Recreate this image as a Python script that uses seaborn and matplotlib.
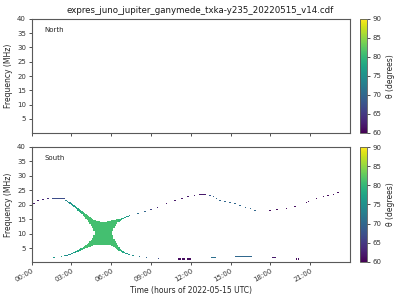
import numpy as np
import matplotlib
matplotlib.use("Agg")
import matplotlib.pyplot as plt
import seaborn as sns
from matplotlib.colors import Normalize
from matplotlib.cm import ScalarMappable

# ---------------- data ----------------
title = "expres_juno_jupiter_ganymede_txka-y235_20220515_v14.cdf"
hemispheres = ["North", "South"]
xtick_hours = [0, 3, 6, 9, 12, 15, 18, 21]
xtick_labels = ["00:00", "03:00", "06:00", "09:00", "12:00", "15:00", "18:00", "21:00"]
ytick_values = [5, 10, 15, 20, 25, 30, 35, 40]
cbar_ticks = [60, 65, 70, 75, 80, 85, 90]

# dense "X" shaped emission (South): column centres (hours), band edges (MHz)
x_t = [2.6, 2.7, 2.8, 2.9, 3.0, 3.1, 3.2, 3.3, 3.4, 3.5, 3.6, 3.7, 3.8, 3.9,
       4.0, 4.1, 4.2, 4.3, 4.4, 4.5, 4.6, 4.7,
       4.8, 4.9, 5.0, 5.1, 5.2, 5.3, 5.4, 5.5, 5.6, 5.7, 5.8, 5.9, 6.0,
       6.1, 6.2, 6.3, 6.4, 6.5, 6.6, 6.7, 6.8, 6.9, 7.0, 7.1, 7.2, 7.3, 7.4]
x_uhi = [21.6, 21.3, 21.0, 20.8, 20.5, 20.2, 19.9, 19.55, 19.2, 18.8, 18.4, 18.05, 17.7, 17.35,
         17.0, 16.7, 16.4, 16.1, 15.8, 15.5, 15.2, 14.9,
         14.6, 14.45, 14.3, 14.25, 14.2, 14.2, 14.2, 14.2, 14.2, 14.3, 14.4, 14.5, 14.6,
         14.7, 14.8, 14.9, 15.0, 15.05, 15.1, 15.25, 15.4, 15.55, 15.7, 15.85, 16.0, 16.15, 16.3]
x_ulo = [21.3, 21.0, 20.6, 20.3, 20.0, 19.7, 19.3, 18.9, 18.5, 18.0, 17.5, 17.1, 16.7, 16.2,
         15.7, 15.2, 14.7, 14.1, 13.5, 12.8, 11.9, 10.8,
         10.3, 10.3, 10.3, 10.3, 10.3, 10.3, 10.3, 10.3, 10.3, 10.3, 10.3, 10.3, 10.3,
         10.9, 12.0, 12.8, 13.4, 13.9, 14.2, 14.5, 14.8, 15.05, 15.3, 15.5, 15.7, 15.85, 16.0]
x_lhi = [2.7, 2.8, 2.9, 3.1, 3.3, 3.5, 3.7, 3.95, 4.2, 4.45, 4.7, 4.95, 5.2, 5.5,
         5.8, 6.1, 6.4, 6.9, 7.4, 8.0, 8.7, 9.6,
         10.3, 10.3, 10.3, 10.3, 10.3, 10.3, 10.3, 10.3, 10.3, 10.3, 10.3, 10.3, 10.3,
         9.6, 8.3, 7.4, 6.8, 6.0, 5.4, 4.85, 4.4, 4.0, 3.7, 3.5, 3.3, 3.15, 3.0]
x_llo = [2.4, 2.5, 2.6, 2.75, 2.9, 3.05, 3.2, 3.4, 3.6, 3.8, 4.0, 4.2, 4.4, 4.6,
         4.8, 5.0, 5.2, 5.4, 5.6, 5.75, 5.9, 6.0,
         6.1, 6.15, 6.2, 6.2, 6.2, 6.2, 6.2, 6.2, 6.2, 6.15, 6.1, 6.0, 5.9,
         5.7, 5.5, 5.2, 4.9, 4.55, 4.2, 3.9, 3.6, 3.4, 3.2, 3.05, 2.9, 2.8, 2.7]
x_theta = [74, 74, 75, 75, 76, 76, 77, 77, 78, 78, 79, 79, 80, 80,
           81, 81, 81, 81, 81, 81, 81, 81,
           81, 81, 81, 81, 81, 81, 81, 81, 81, 81, 81, 81, 81,
           81, 81, 81, 81, 81, 80, 80, 79, 78, 77, 77, 76, 76, 75]

# sparse emission dashes (South): start hour, end hour, frequency, theta
seg_start = [0.10, 0.42, 0.80, 1.17, 1.55,
             7.95, 8.45, 8.95, 9.45, 10.10, 10.75, 11.25, 11.75, 12.25, 12.65,
             13.40, 13.65, 13.90, 14.15, 14.50, 14.85, 15.25, 15.60, 16.05, 16.45, 16.80,
             17.90, 18.45, 19.15, 19.80, 20.70, 20.85, 21.45, 21.95, 22.30, 22.70, 23.05,
             1.60, 2.20, 2.45, 7.60, 8.10, 8.60, 9.50,
             11.00, 11.35, 11.75, 13.55, 15.30, 18.10, 19.95, 20.10]
seg_end = [0.22, 0.54, 0.92, 1.29, 2.50,
           8.10, 8.60, 9.05, 9.55, 10.20, 10.85, 11.40, 11.90, 12.35, 13.15,
           13.55, 13.75, 14.00, 14.25, 14.65, 15.05, 15.40, 15.75, 16.15, 16.55, 16.90,
           18.05, 18.60, 19.25, 19.90, 20.76, 20.92, 21.55, 22.05, 22.45, 22.80, 23.15,
           1.80, 2.30, 2.55, 7.70, 8.20, 8.70, 9.60,
           11.25, 11.60, 12.05, 13.90, 16.60, 18.40, 20.00, 20.15]
seg_freq = [20.5, 21.3, 21.8, 22.0, 22.2,
            17.1, 17.6, 18.2, 19.0, 20.5, 21.4, 22.2, 22.8, 23.2, 23.6,
            23.3, 22.7, 22.2, 21.6, 21.1, 20.7, 20.4, 19.8, 19.1, 18.6, 18.1,
            18.1, 18.4, 18.7, 19.5, 20.9, 21.2, 22.2, 22.9, 23.2, 23.6, 24.2,
            1.9, 2.2, 2.35, 2.5, 2.1, 1.9, 1.55,
            1.3, 1.3, 1.3, 1.7, 2.0, 1.7, 1.3, 1.3]
seg_theta = [62, 62, 63, 64, 67,
             71, 70, 66, 63, 62, 62, 62, 62, 62, 62,
             68, 69, 70, 70, 70, 70, 70, 70, 70, 70, 70,
             61, 61, 61, 61, 61, 61, 61, 61, 61, 61, 61,
             76, 77, 78, 75, 72, 70, 67,
             61, 61, 61, 71, 70, 62, 61, 61]

# ---------------- style ----------------
sns.set_theme(style="ticks", rc={
    "axes.edgecolor": "0.35",
    "xtick.color": "0.2",
    "ytick.color": "0.2",
    "axes.linewidth": 0.8,
    "xtick.major.size": 2.5,
    "ytick.major.size": 2.5,
    "xtick.major.width": 0.6,
    "ytick.major.width": 0.6,
})
plt.rcParams["font.family"] = ["DejaVu Sans"]

cmap = sns.color_palette("viridis", as_cmap=True)
norm = Normalize(vmin=60, vmax=90)

fig = plt.figure(figsize=(4, 3), dpi=100)
ax_n = fig.add_axes([0.079, 0.558, 0.796, 0.379])
ax_s = fig.add_axes([0.079, 0.126, 0.796, 0.385])
cax_n = fig.add_axes([0.9, 0.557, 0.017, 0.38])
cax_s = fig.add_axes([0.9, 0.127, 0.017, 0.383])

fig.text(0.5, 0.965, title, ha="center", va="center", fontsize=6.2, color="0.1")

dash_h = 0.35
# dense X region
xt = np.array(x_t)
w = 0.1
cols = [cmap(norm(v)) for v in x_theta]
ax_s.bar(xt - w / 2, np.array(x_uhi) - np.array(x_ulo), width=w, bottom=x_ulo,
         align="edge", color=cols, linewidth=0, antialiased=False)
ax_s.bar(xt - w / 2, np.array(x_lhi) - np.array(x_llo), width=w, bottom=x_llo,
         align="edge", color=cols, linewidth=0, antialiased=False)
# sparse dashes
ss = np.array(seg_start)
se = np.array(seg_end)
sf = np.array(seg_freq)
ax_s.bar(ss, np.full(len(sf), dash_h), width=se - ss, bottom=sf - dash_h / 2,
         align="edge", color=[cmap(norm(v)) for v in seg_theta], linewidth=0,
         antialiased=False)

for ax, name, cax in [(ax_n, hemispheres[0], cax_n), (ax_s, hemispheres[1], cax_s)]:
    ax.set_xlim(0, 24)
    ax.set_ylim(0.2, 40)
    ax.set_yticks(ytick_values)
    ax.set_xticks(xtick_hours)
    ax.tick_params(labelsize=5, pad=1.5)
    ax.set_ylabel("Frequency (MHz)", fontsize=5.5, labelpad=3, color="0.15")
    ax.text(0.04, 0.9, name, transform=ax.transAxes, fontsize=5, va="center",
            color="0.15")
    sm = ScalarMappable(norm=norm, cmap=cmap)
    cb = fig.colorbar(sm, cax=cax)
    cb.set_ticks(cbar_ticks)
    cb.ax.tick_params(labelsize=5, pad=1.5, length=2.5, width=0.6)
    cb.outline.set_linewidth(0.6)
    cb.outline.set_edgecolor("0.35")
    cb.set_label("θ (degrees)", fontsize=5.5, labelpad=3, color="0.15")

ax_n.set_xticklabels([])
ax_s.set_xticklabels(xtick_labels, rotation=30, ha="right", rotation_mode="anchor")
ax_s.set_xlabel("Time (hours of 2022-05-15 UTC)", fontsize=5.5, labelpad=2,
                color="0.15")

fig.savefig("out.png", dpi=100)
